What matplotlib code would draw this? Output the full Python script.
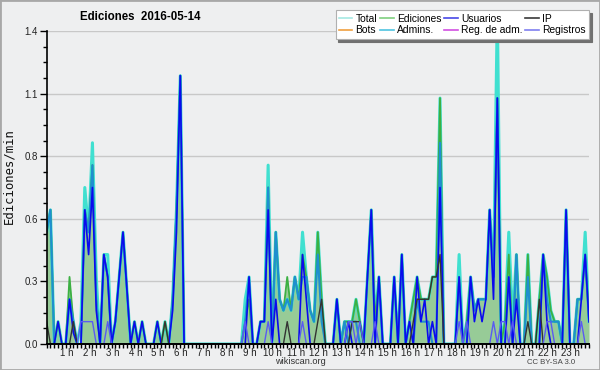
import numpy as np
import matplotlib
matplotlib.use("Agg")
import matplotlib.pyplot as plt
from matplotlib.ticker import FixedLocator, MultipleLocator, FormatStrFormatter
from matplotlib.lines import Line2D
from matplotlib.patches import Rectangle
from matplotlib.transforms import ScaledTranslation

# ---- data: edits per minute, 10-minute bins (00:00 .. 23:40) ----
total = [0.5, 0.6, 0, 0.1, 0, 0,
         0.2, 0.1, 0, 0.1, 0.7, 0.5,
         0.9, 0.3, 0, 0.4, 0.4, 0,
         0.1, 0.3, 0.5, 0.25, 0, 0.1,
         0, 0.1, 0, 0, 0, 0.1,
         0, 0.1, 0, 0.2, 0.6, 1.2,
         0, 0, 0, 0, 0, 0,
         0, 0, 0, 0, 0, 0,
         0, 0, 0, 0, 0.2, 0.3,
         0, 0, 0.1, 0.1, 0.8, 0,
         0.5, 0.2, 0.15, 0.2, 0.15, 0.3,
         0.2, 0.5, 0.3, 0.15, 0.1, 0.5,
         0.2, 0, 0, 0, 0.2, 0,
         0.1, 0.1, 0.1, 0.2, 0.1, 0,
         0.3, 0.6, 0.1, 0.3, 0, 0,
         0, 0.3, 0, 0.4, 0, 0.1,
         0.2, 0.3, 0.2, 0.2, 0.2, 0.3,
         0.3, 1.1, 0, 0, 0, 0,
         0.4, 0, 0.1, 0.3, 0.15, 0.2,
         0.2, 0.2, 0.6, 0.3, 1.5, 0,
         0.1, 0.5, 0.1, 0.4, 0, 0,
         0.4, 0, 0, 0.2, 0.4, 0.3,
         0.15, 0.1, 0.1, 0, 0.6, 0,
         0, 0.2, 0.2, 0.5, 0.1]

ediciones = [0.5, 0.6, 0, 0.1, 0, 0,
             0.3, 0.1, 0, 0, 0.6, 0.5,
             0.8, 0.2, 0, 0.4, 0.3, 0,
             0.1, 0.3, 0.5, 0.25, 0, 0.1,
             0, 0.1, 0, 0, 0, 0.1,
             0, 0.1, 0, 0.2, 0.6, 1.2,
             0, 0, 0, 0, 0, 0,
             0, 0, 0, 0, 0, 0,
             0, 0, 0, 0, 0.1, 0.2,
             0, 0, 0.1, 0.1, 0.7, 0,
             0.5, 0.2, 0.15, 0.3, 0.15, 0.3,
             0.2, 0.4, 0.3, 0.15, 0.1, 0.5,
             0.2, 0, 0, 0, 0.2, 0,
             0.1, 0.1, 0.1, 0.2, 0.1, 0,
             0.3, 0.6, 0.1, 0.3, 0, 0,
             0, 0.3, 0, 0.4, 0, 0.1,
             0.2, 0.3, 0.2, 0.2, 0.2, 0.3,
             0.3, 1.1, 0, 0, 0, 0,
             0.3, 0, 0.1, 0.3, 0.15, 0.2,
             0.2, 0.2, 0.6, 0.3, 1.1, 0,
             0.1, 0.4, 0, 0.4, 0, 0,
             0.4, 0, 0, 0.2, 0.4, 0.3,
             0.15, 0.1, 0.1, 0, 0.6, 0,
             0, 0.2, 0.2, 0.4, 0.1]

admins = [0.5, 0.6, 0, 0, 0, 0,
          0.2, 0.1, 0, 0, 0.6, 0.5,
          0.8, 0.2, 0, 0.4, 0.3, 0,
          0.1, 0.3, 0.5, 0.25, 0, 0,
          0, 0, 0, 0, 0, 0,
          0, 0, 0, 0.2, 0.6, 1.2,
          0, 0, 0, 0, 0, 0,
          0, 0, 0, 0, 0, 0,
          0, 0, 0, 0, 0.1, 0.3,
          0, 0, 0.1, 0.1, 0.7, 0,
          0.5, 0.2, 0.15, 0.2, 0.15, 0.3,
          0.2, 0.3, 0.3, 0.15, 0.1, 0.4,
          0.1, 0, 0, 0, 0.2, 0,
          0.1, 0, 0.1, 0.1, 0, 0,
          0.3, 0.6, 0, 0.3, 0, 0,
          0, 0.3, 0, 0.4, 0, 0.1,
          0, 0.2, 0.1, 0.1, 0.1, 0,
          0, 0.9, 0, 0, 0, 0,
          0.3, 0, 0, 0.3, 0.15, 0.2,
          0.2, 0.2, 0.6, 0.3, 1.1, 0,
          0, 0.3, 0, 0.4, 0, 0,
          0.3, 0, 0, 0, 0.4, 0.2,
          0.1, 0.1, 0.1, 0, 0.6, 0,
          0, 0.2, 0.2, 0.4, 0.1]

usuarios = [0, 0, 0, 0.1, 0, 0,
            0.2, 0.05, 0, 0, 0.6, 0.4,
            0.7, 0.15, 0, 0.4, 0.3, 0,
            0.1, 0.3, 0.5, 0.25, 0, 0.1,
            0, 0.1, 0, 0, 0, 0.1,
            0, 0, 0, 0.15, 0.5, 1.2,
            0, 0, 0, 0, 0, 0,
            0, 0, 0, 0, 0, 0,
            0, 0, 0, 0, 0, 0.3,
            0, 0, 0.1, 0.1, 0.6, 0,
            0.2, 0, 0, 0, 0, 0,
            0, 0.4, 0.2, 0, 0, 0,
            0, 0, 0, 0, 0.2, 0,
            0, 0.1, 0, 0, 0, 0,
            0.3, 0.6, 0, 0.3, 0, 0,
            0, 0.3, 0, 0.4, 0, 0.1,
            0, 0.3, 0.1, 0.2, 0, 0.1,
            0, 0.7, 0, 0, 0, 0,
            0.3, 0, 0, 0.3, 0.1, 0.2,
            0.1, 0.2, 0.6, 0.2, 1.1, 0,
            0, 0.3, 0, 0.2, 0, 0,
            0, 0, 0, 0, 0.4, 0.1,
            0, 0, 0, 0, 0.6, 0,
            0, 0, 0.2, 0.4, 0.1]

ip = [0.1, 0, 0, 0, 0, 0,
      0, 0.1, 0, 0, 0, 0,
      0, 0, 0, 0, 0, 0,
      0, 0, 0, 0, 0, 0,
      0, 0, 0, 0, 0, 0,
      0, 0.1, 0, 0, 0, 0,
      0, 0, 0, 0, 0, 0,
      0, 0, 0, 0, 0, 0,
      0, 0, 0, 0, 0, 0,
      0, 0, 0, 0, 0, 0,
      0, 0, 0, 0.1, 0, 0,
      0, 0, 0, 0, 0, 0.1,
      0.2, 0, 0, 0, 0, 0,
      0, 0, 0.1, 0.1, 0.1, 0,
      0, 0, 0, 0, 0, 0,
      0, 0, 0, 0, 0, 0,
      0.1, 0.2, 0.2, 0.2, 0.2, 0.3,
      0.3, 0.4, 0, 0, 0, 0,
      0, 0, 0, 0, 0, 0,
      0, 0, 0, 0, 0, 0,
      0, 0, 0, 0, 0, 0,
      0.1, 0, 0, 0.2, 0, 0,
      0, 0, 0, 0, 0, 0,
      0, 0, 0, 0, 0]

registros = [0, 0, 0, 0, 0, 0,
             0, 0, 0, 0.1, 0.1, 0.1,
             0.1, 0, 0, 0, 0.1, 0,
             0, 0, 0, 0, 0, 0,
             0, 0, 0, 0, 0, 0,
             0, 0, 0, 0, 0, 0,
             0, 0, 0, 0, 0, 0,
             0, 0, 0, 0, 0, 0,
             0, 0, 0, 0, 0.1, 0,
             0, 0, 0, 0, 0.1, 0,
             0, 0, 0, 0, 0, 0,
             0, 0.1, 0, 0, 0, 0,
             0, 0, 0, 0, 0, 0,
             0, 0.1, 0.1, 0, 0.1, 0,
             0, 0, 0.1, 0, 0, 0,
             0, 0, 0, 0, 0, 0,
             0, 0, 0, 0, 0, 0,
             0, 0, 0, 0, 0, 0,
             0.1, 0, 0.1, 0, 0, 0,
             0, 0, 0, 0.1, 0, 0.1,
             0.1, 0, 0.1, 0, 0, 0,
             0, 0, 0, 0, 0, 0.1,
             0.1, 0, 0, 0, 0, 0,
             0, 0, 0.1, 0, 0]

bots = [0] * 143
reg_adm = [0] * 143

hour_labels = [f"{h} h" for h in range(1, 24)]

# ---- style ----
BG = "#eeeff0"
SANS = ["Liberation Sans", "DejaVu Sans"]

fig = plt.figure(figsize=(6.0, 3.7), dpi=100, facecolor=BG)
fig.patches.append(Rectangle((0, 0), 1, 1, transform=fig.transFigure,
                             fill=False, edgecolor="#a8a8a8", lw=2.0))

W, H = 600.0, 370.0
x_left, x_right, y_top, y_bot = 46.6, 589.0, 31.0, 344.0
ax = fig.add_axes([x_left / W, 1 - y_bot / H, (x_right - x_left) / W, (y_bot - y_top) / H])
ax.set_facecolor(BG)

x = np.arange(len(total))
ax.fill_between(x, ediciones, 0, color="#97cb97", lw=0, zorder=1.5)
ax.plot(x, bots, color="#f0a030", lw=1.0, zorder=1.2)
ax.plot(x, reg_adm, color="#d040d0", lw=1.0, zorder=1.2)
ax.plot(x, total, color="#40e0d0", lw=2.2, zorder=2.0)
ax.plot(x, ediciones, color="#3cb043", lw=1.3, zorder=2.1)
ax.plot(x, admins, color="#1f8fd0", lw=1.5, zorder=2.2)
ax.plot(x, usuarios, color="#0a0aee", lw=1.2, zorder=2.3)
ax.plot(x, ip, color="#333333", lw=1.0, zorder=2.4)
ax.plot(x, registros, color="#5a5af2", lw=1.0, zorder=2.45)

ax.set_xlim(0, len(total) - 1)
ax.set_ylim(0, 1.4)

# y axis
ax.yaxis.set_major_locator(FixedLocator(np.linspace(0, 1.4, 6)))
ax.yaxis.set_major_formatter(FormatStrFormatter("%.1f"))
ax.yaxis.set_minor_locator(MultipleLocator(0.07))
ax.grid(axis="y", which="major", color="#c8c8c8", lw=1.0)
ax.set_axisbelow(True)

# x axis
ax.xaxis.set_major_locator(FixedLocator([6 * h for h in range(1, 24)]))
ax.set_xticklabels(hour_labels)
ax.xaxis.set_minor_locator(MultipleLocator(1))

ax.tick_params(axis="both", which="both", direction="out", color="black", width=1.0)
ax.tick_params(axis="x", which="both", length=2.6, pad=0.6, labelsize=7.0, labelcolor="#222222")
ax.tick_params(axis="y", which="major", length=5, pad=1.2, labelsize=7.0, labelcolor="#222222")
ax.tick_params(axis="y", which="minor", length=3)
for lab in ax.get_xticklabels() + ax.get_yticklabels():
    lab.set_family(SANS)
for lab in ax.get_xticklabels():
    lab.set_transform(lab.get_transform() + ScaledTranslation(-3 / 100, 0, fig.dpi_scale_trans))

for s in ("top", "right"):
    ax.spines[s].set_visible(False)
ax.spines["left"].set_linewidth(1.2)
ax.spines["bottom"].set_linewidth(1.4)

# texts
fig.text(140 / W, 1 - 17 / H, "Ediciones  2016-05-14", ha="center", va="center",
         fontsize=8.3, fontweight="bold", family=SANS)
fig.text(9 / W, 1 - 176 / H, "Ediciones/min", rotation=90, ha="center", va="center",
         fontsize=8.8, family="DejaVu Sans Mono", color="#111111")
fig.text(0.5, 1 - 362 / H, "wikiscan.org", ha="center", va="center", fontsize=6.6,
         color="#333333", family=SANS)
fig.text(551 / W, 1 - 362.5 / H, "CC BY-SA 3.0", ha="center", va="center", fontsize=5.6,
         color="#444444", family=SANS)

# legend
leg_colors = {"Total": "#a6e9e3", "Ediciones": "#7fcf7f", "Usuarios": "#4848e6",
              "IP": "#3a3a3a", "Bots": "#f0a040", "Admins.": "#4fc4e0",
              "Reg. de adm.": "#d24fe2", "Registros": "#7f7ff0"}
order = ["Total", "Bots", "Ediciones", "Admins.", "Usuarios", "Reg. de adm.", "IP", "Registros"]
handles = [Line2D([], [], color=leg_colors[n], lw=1.2) for n in order]
leg = fig.legend(handles, order, ncol=4, loc="upper right",
                 bbox_to_anchor=(589 / W, 1 - 10 / H), bbox_transform=fig.transFigure,
                 prop=dict(size=7.4, family=SANS), frameon=True, fancybox=False,
                 shadow={"color": "#707070", "alpha": 1.0}, framealpha=1.0,
                 borderpad=0.35, labelspacing=0.15, handlelength=1.3,
                 handletextpad=0.3, columnspacing=0.3, borderaxespad=0)
leg.get_frame().set_edgecolor("#b0b0b0")
leg.get_frame().set_facecolor("white")
leg.get_frame().set_linewidth(0.8)

fig.savefig("out.png", dpi=100, facecolor=BG)
